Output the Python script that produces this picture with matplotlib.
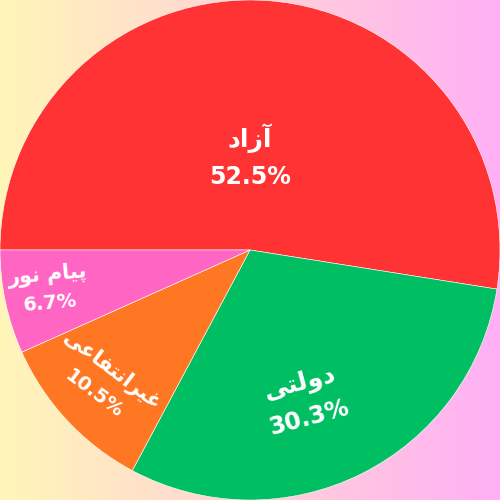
import matplotlib
matplotlib.use("Agg")
import matplotlib.pyplot as plt
import numpy as np
from matplotlib.colors import LinearSegmentedColormap

# داده‌ها
labels = ["آزاد", "دولتی", "غیرانتفاعی", "پیام نور"]
shares = [52.5, 30.3, 10.5, 6.7]
colors = ["#FF3333", "#00BF63", "#FF7722", "#FF66C4"]

# ظاهر برچسب‌ها (فاصله از مرکز، اصلاح زاویه، چرخش، اندازه، فاصله خطوط)
label_r = [0.37, 0.64, 0.79, 0.82]
label_dang = [4.5, -6.5, -1, -1]
label_rot = [0, 15, -37, 5]
label_size = [17, 17, 14, 14]
line_gap = [14, 13, 10.5, 10]

# شکل‌دهی ساده حروف فارسی (matplotlib خودش این کار را نمی‌کند)
FORMS = {
    "آ": (0xFE81, 0xFE82, None, None),
    "ا": (0xFE8D, 0xFE8E, None, None),
    "د": (0xFEA9, 0xFEAA, None, None),
    "ر": (0xFEAD, 0xFEAE, None, None),
    "ز": (0xFEAF, 0xFEB0, None, None),
    "و": (0xFEED, 0xFEEE, None, None),
    "ت": (0xFE95, 0xFE96, 0xFE97, 0xFE98),
    "ع": (0xFEC9, 0xFECA, 0xFECB, 0xFECC),
    "غ": (0xFECD, 0xFECE, 0xFECF, 0xFED0),
    "ف": (0xFED1, 0xFED2, 0xFED3, 0xFED4),
    "ل": (0xFEDD, 0xFEDE, 0xFEDF, 0xFEE0),
    "م": (0xFEE1, 0xFEE2, 0xFEE3, 0xFEE4),
    "ن": (0xFEE5, 0xFEE6, 0xFEE7, 0xFEE8),
    "ی": (0xFBFC, 0xFBFD, 0xFBFE, 0xFBFF),
    "پ": (0xFB56, 0xFB57, 0xFB58, 0xFB59),
}


def shape(text):
    out = []
    for i, ch in enumerate(text):
        if ch not in FORMS:
            out.append(ch)
            continue
        prev = text[i - 1] if i > 0 else None
        nxt = text[i + 1] if i + 1 < len(text) else None
        joins_prev = prev in FORMS and FORMS[prev][2] is not None
        joins_next = nxt in FORMS and FORMS[ch][2] is not None
        iso, fin, ini, med = FORMS[ch]
        if joins_prev and joins_next:
            code = med
        elif joins_prev:
            code = fin
        elif joins_next:
            code = ini
        else:
            code = iso
        out.append(chr(code))
    return "".join(out)[::-1]


fig = plt.figure(figsize=(5, 5), dpi=100)

# پس‌زمینه گرادیان
bg = fig.add_axes([0, 0, 1, 1])
cmap = LinearSegmentedColormap.from_list("bg", ["#FFF6B8", "#FFB0F5"])
bg.imshow(np.linspace(0, 1, 256).reshape(1, -1), aspect="auto", cmap=cmap,
          extent=[0, 1, 0, 1])
bg.axis("off")

ax = fig.add_axes([0, 0, 1, 1])
ax.set_facecolor("none")
wedges, _ = ax.pie(shares, colors=colors, startangle=180, counterclock=False,
                   radius=1, wedgeprops=dict(edgecolor="white", linewidth=0.4))
ax.set_xlim(-1, 1)
ax.set_ylim(-1, 1)
ax.set_aspect("equal")
ax.axis("off")

for w, name, val, r, da, rot, fs, gap in zip(wedges, labels, shares, label_r,
                                              label_dang, label_rot, label_size, line_gap):
    mid = np.deg2rad((w.theta1 + w.theta2) / 2 + da)
    x, y = r * np.cos(mid), r * np.sin(mid)
    up = np.array([-np.sin(np.deg2rad(rot)), np.cos(np.deg2rad(rot))]) * gap
    style = dict(xycoords="data", textcoords="offset points", ha="center",
                 va="center", rotation=rot, rotation_mode="anchor",
                 color="white", fontweight="bold", family="DejaVu Sans")
    ax.annotate(shape(name), (x, y), xytext=tuple(up), fontsize=fs + 1, **style)
    ax.annotate(f"{val}%", (x, y), xytext=tuple(-up), fontsize=fs, **style)

fig.savefig("out.png", dpi=100)
